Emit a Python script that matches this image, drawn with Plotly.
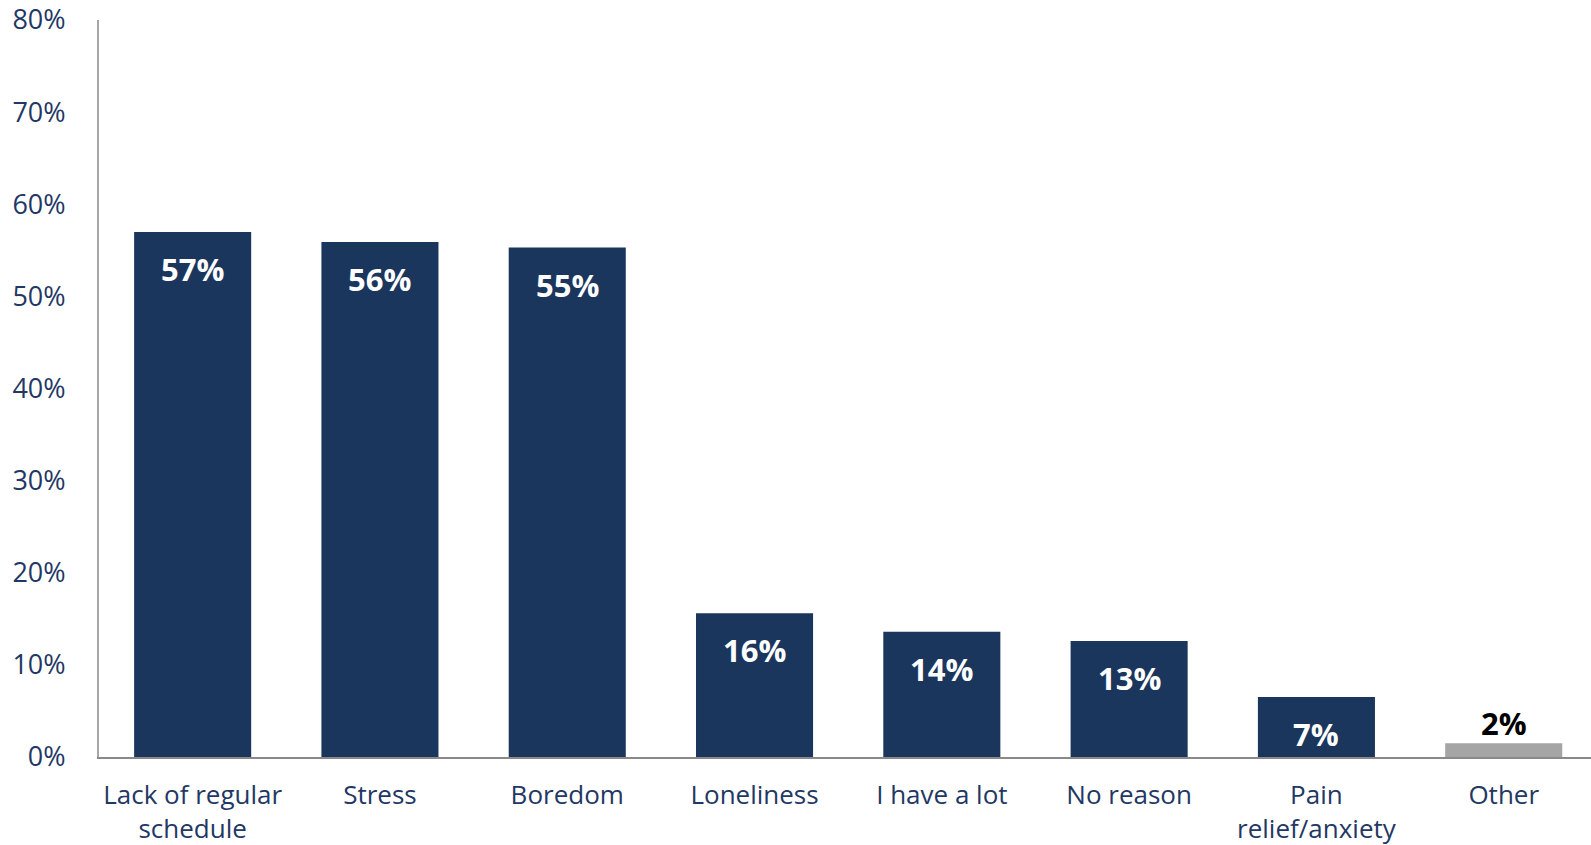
import plotly.graph_objects as go

categories = ["Lack of regular<br>schedule", "Stress", "Boredom", "Loneliness",
              "I have a lot", "No reason", "Pain<br>relief/anxiety", "Other"]
values = [57.0, 55.9, 55.3, 15.6, 13.6, 12.6, 6.5, 1.5]
value_labels = ["57%", "56%", "55%", "16%", "14%", "13%", "7%", "2%"]
y_ticks = [0, 10, 20, 30, 40, 50, 60, 70, 80]
y_tick_labels = ["0%", "10%", "20%", "30%", "40%", "50%", "60%", "70%", "80%"]

NAVY = "#1B365D"
GRAY = "#A5A5A5"
TEXT = "#1F3864"
FONT = "Open Sans"

colors = [NAVY] * 7 + [GRAY]

fig = go.Figure()
fig.add_trace(go.Bar(x=categories, y=values, marker=dict(color=colors, line=dict(width=0)),
                     hoverinfo="skip"))

for i, (c, v, t) in enumerate(zip(categories, values, value_labels)):
    inside = i < 7
    fig.add_annotation(x=c, y=v, text=f"<b>{t}</b>", showarrow=False,
                       yshift=-37 if inside else 20,
                       font=dict(family=FONT, size=31, color="white" if inside else "black"))

fig.update_layout(
    width=1591, height=845,
    margin=dict(l=99, r=0, t=20, b=88),
    paper_bgcolor="white", plot_bgcolor="white",
    bargap=0.375, showlegend=False,
    font=dict(family=FONT, color=TEXT, size=26),
)
fig.update_xaxes(range=[-0.5, 7.466], showline=True, linecolor="#898989", linewidth=2,
                 ticks="", tickfont=dict(family=FONT, size=26, color=TEXT), showgrid=False,
                 ticklabelstandoff=14, automargin=False, ticklabeloverflow="allow",
                 fixedrange=True)
fig.update_yaxes(range=[0, 80], tickvals=y_ticks, ticktext=y_tick_labels, showline=True,
                 linecolor="#A6A6A6", linewidth=2, showgrid=False, zeroline=False, ticks="",
                 ticklabelstandoff=26, automargin=False, ticklabeloverflow="allow",
                 tickfont=dict(family=FONT, size=27, color=TEXT), fixedrange=True)

fig.write_html("out.html", config={"displayModeBar": False},
               post_script="document.body.style.margin='0';")
